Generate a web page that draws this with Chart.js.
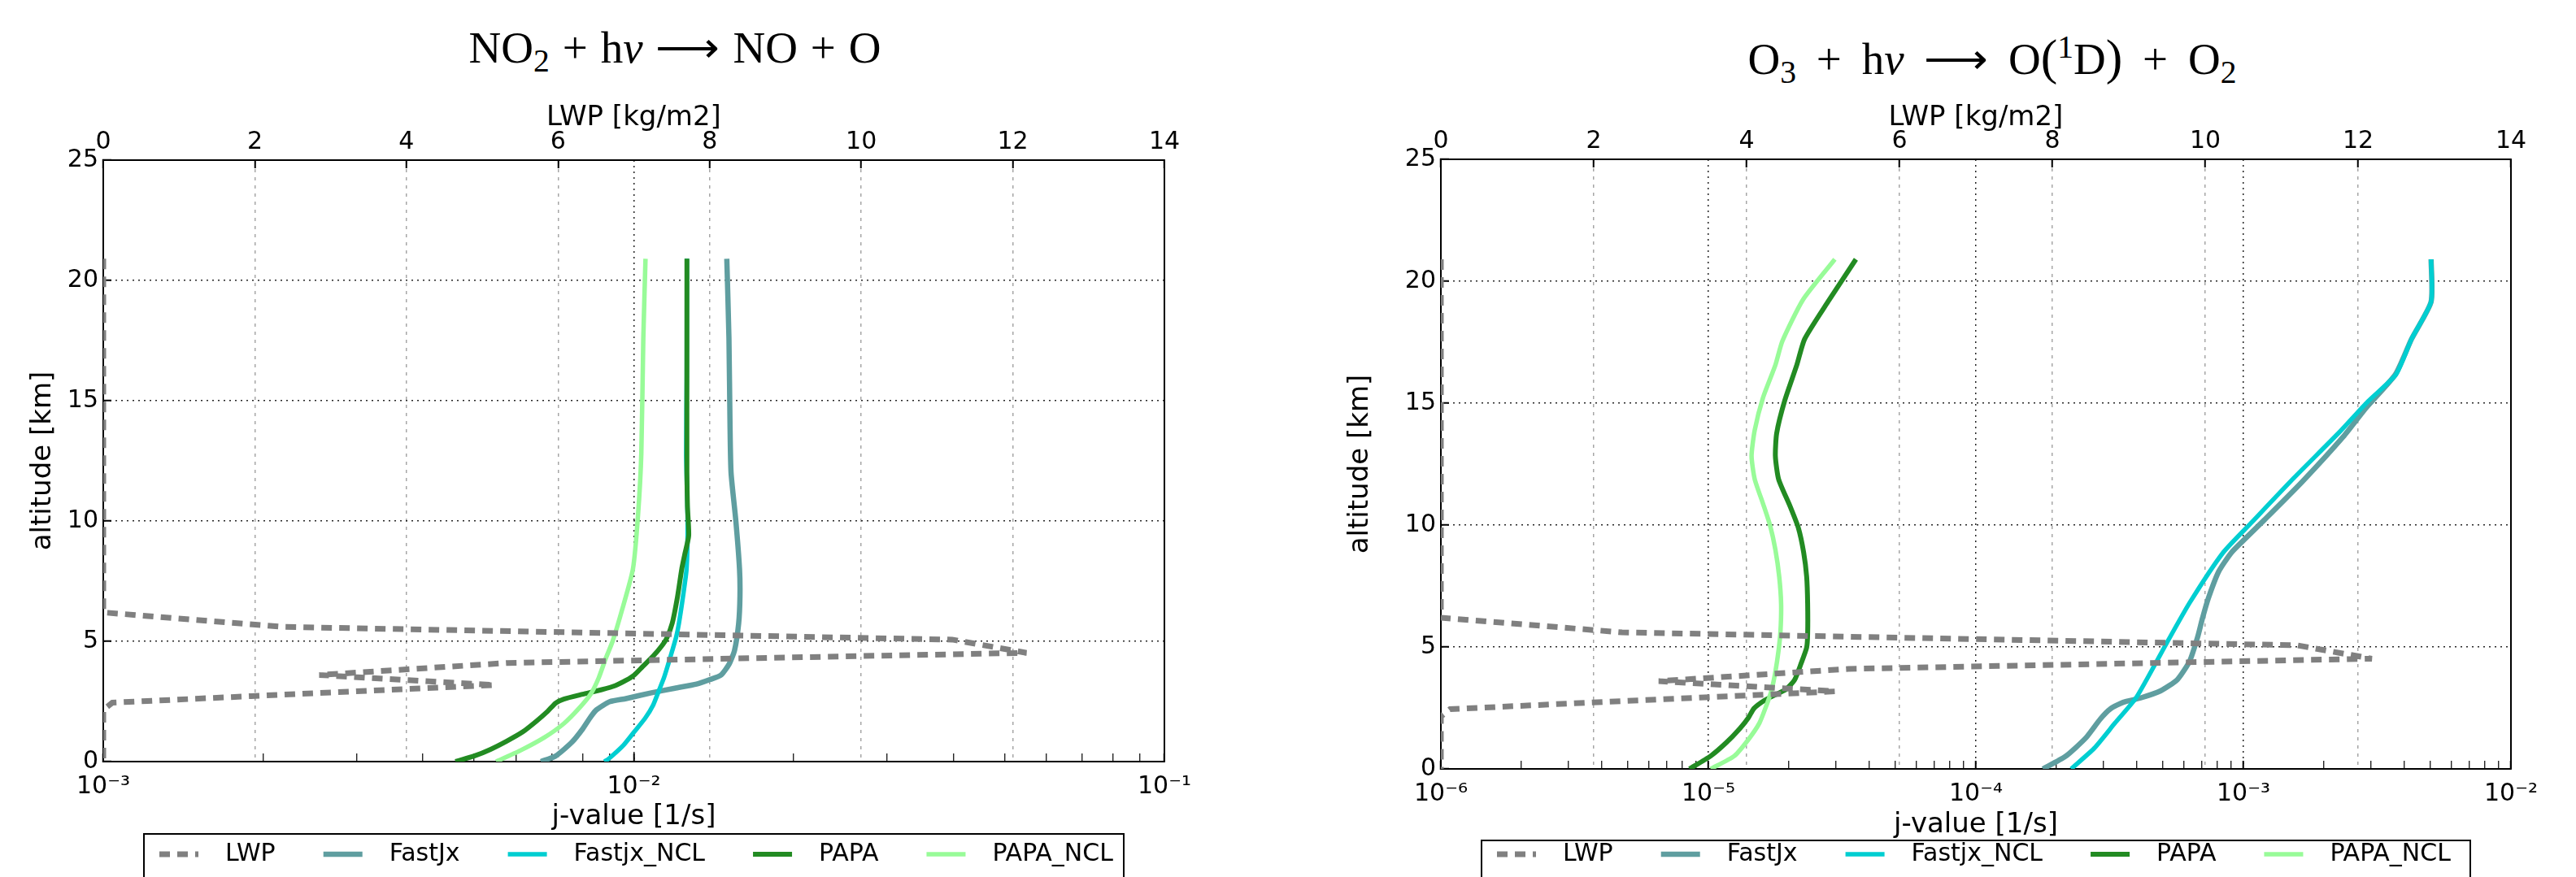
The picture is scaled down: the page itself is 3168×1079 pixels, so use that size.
<!DOCTYPE html>
<html>
<head>
<meta charset="utf-8">
<script src="https://cdn.jsdelivr.net/npm/chart.js@4.4.1/dist/chart.umd.min.js"></script>
<style>
   body { margin: 0; background: #fff; width: 3168px; height: 1079px; overflow: hidden; position: relative; }
   canvas { position: absolute; top: 0; }
   .title { position: absolute; width: 1000px; text-align: center; font-family: 'Liberation Serif', serif; font-size: 55px; line-height: 55px; white-space: nowrap; color: #000; }
   .title sub { font-size: 0.72em; vertical-align: -0.28em; line-height: 0; }
   .title sup { font-size: 0.72em; vertical-align: 0.5em; line-height: 0; }
   .title .op { margin: 0 0.04em; }
   .title .wide { margin: 0 0.2em; }
   .title .par { font-size: 1.12em; }
</style>
</head>
<body>
<div class="title" style="left:330px; top:31px">NO<sub>2</sub> <span class="op">+</span> h<i>ν</i> <span class="op">⟶</span> NO <span class="op">+</span> O</div>
<div class="title" style="left:1950px; top:43px">O<sub>3</sub> <span class="wide">+</span> h<i>ν</i> <span class="wide">⟶</span> O<span class="par">(</span><sup>1</sup>D<span class="par">)</span> <span class="wide">+</span> O<sub>2</sub></div>
<canvas id="no2Chart" width="1584" height="1079" style="left:0"></canvas>
<canvas id="o3Chart" width="1584" height="1079" style="left:1584px"></canvas>
<script>
'use strict';

/*global Chart*/

// liquid water path profile (top axis), same for both panels
var lwpAlt = [20.9, 6.2, 5.6, 5.07, 4.52, 4.1, 3.6, 3.18, 2.72, 2.45, 2.15, 0];
var lwpValue = [0, 0, 2.37, 11.2, 12.18, 5.33, 2.85, 5.16, 1.95, 0.12, 0, 0];

// NO2 + hv -> NO + O
var no2FastjxAlt = [0, 0.23, 0.8, 1.36, 1.87, 2.15, 2.49, 2.62, 2.85, 3.05, 3.22, 3.41, 3.6, 4.05, 4.62, 5.74, 6.87, 8.0, 10.0, 12.0, 14.0, 17.6, 20.9];
var no2FastjxJ = [0.00668, 0.00712, 0.00764, 0.00801, 0.00830, 0.00850, 0.00901, 0.00967, 0.01075, 0.01195, 0.01313, 0.01392, 0.01460, 0.01512, 0.01548, 0.01576, 0.01585, 0.01582, 0.01557, 0.01525, 0.01518, 0.01511, 0.01497];
var no2FastjxNclAlt = [0, 0.11, 0.68, 1.24, 1.8, 2.36, 2.93, 3.49, 4.05, 4.6, 5.19, 5.74, 6.87, 8.0, 10.0, 12.8, 16.0, 20.9];
var no2FastjxNclJ = [0.00880, 0.00896, 0.00956, 0.01002, 0.01050, 0.01088, 0.01114, 0.01140, 0.01161, 0.01181, 0.01202, 0.01216, 0.01238, 0.01257, 0.01263, 0.01255, 0.01258, 0.01259];
var no2PapaAlt = [0, 0.23, 0.51, 0.85, 1.24, 1.69, 2.09, 2.43, 2.6, 2.8, 2.99, 3.16, 3.38, 3.6, 3.94, 4.39, 4.79, 5.12, 5.74, 6.87, 8.0, 8.6, 9.4, 10.6, 12.0, 17.0, 20.9];
var no2PapaJ = [0.00461, 0.00500, 0.00537, 0.00576, 0.00618, 0.00656, 0.00688, 0.00712, 0.00738, 0.00801, 0.00870, 0.00923, 0.00967, 0.01002, 0.01038, 0.01088, 0.01127, 0.01153, 0.01181, 0.01209, 0.01231, 0.01247, 0.01269, 0.01262, 0.01259, 0.01259, 0.01259];
var no2PapaNclAlt = [0, 0.46, 1.01, 1.58, 2.25, 2.82, 3.49, 4.28, 5.0, 6.3, 8.0, 10.2, 12.8, 17.6, 20.9];
var no2PapaNclJ = [0.00550, 0.00611, 0.00679, 0.00738, 0.00791, 0.00830, 0.00859, 0.00885, 0.00912, 0.00950, 0.00996, 0.01018, 0.01033, 0.01042, 0.01052];

// O3 + hv -> O(1D) + O2
var o3FastjxAlt = [0, 0.51, 1.28, 2.05, 2.47, 2.73, 2.90, 3.20, 3.66, 4.43, 5.45, 6.13, 6.99, 8.09, 8.86, 9.37, 10.22, 11.75, 13.62, 14.82, 16.18, 17.63, 19.16, 20.9];
var o3FastjxJ = [1.78e-4, 2.16e-4, 2.58e-4, 2.92e-4, 3.19e-4, 3.55e-4, 4.10e-4, 4.90e-4, 5.66e-4, 6.30e-4, 6.76e-4, 7.01e-4, 7.39e-4, 8.08e-4, 9.00e-4, 1.00e-3, 1.20e-3, 1.65e-3, 2.36e-3, 2.88e-3, 3.70e-3, 4.25e-3, 5.03e-3, 5.03e-3];
var o3FastjxNclAlt = [0, 0.85, 1.88, 2.90, 4.43, 5.20, 6.82, 8.86, 10.14, 11.92, 13.80, 15.07, 16.18, 17.63, 19.16, 20.9];
var o3FastjxNclJ = [2.27e-4, 2.77e-4, 3.31e-4, 3.96e-4, 4.75e-4, 5.19e-4, 6.30e-4, 8.38e-4, 1.08e-3, 1.54e-3, 2.28e-3, 2.92e-3, 3.72e-3, 4.25e-3, 5.03e-3, 5.03e-3];
var o3PapaAlt = [0, 0.53, 1.09, 1.65, 2.09, 2.48, 2.81, 3.04, 3.26, 3.65, 4.32, 4.98, 5.54, 6.77, 7.88, 8.88, 9.88, 10.77, 11.88, 12.83, 13.77, 15.11, 16.56, 17.63, 19.16, 20.9];
var o3PapaJ = [8.5e-6, 1.02e-5, 1.17e-5, 1.31e-5, 1.41e-5, 1.48e-5, 1.62e-5, 1.78e-5, 1.95e-5, 2.10e-5, 2.22e-5, 2.33e-5, 2.35e-5, 2.35e-5, 2.33e-5, 2.27e-5, 2.17e-5, 2.02e-5, 1.83e-5, 1.78e-5, 1.80e-5, 1.93e-5, 2.14e-5, 2.29e-5, 2.80e-5, 3.56e-5];
var o3PapaNclAlt = [0, 0.53, 1.20, 1.87, 2.54, 3.20, 3.98, 4.87, 5.65, 6.77, 7.88, 8.99, 9.99, 10.88, 11.88, 12.83, 13.89, 15.22, 16.56, 17.54, 19.25, 20.9];
var o3PapaNclJ = [1.02e-5, 1.25e-5, 1.41e-5, 1.55e-5, 1.64e-5, 1.72e-5, 1.78e-5, 1.83e-5, 1.86e-5, 1.87e-5, 1.84e-5, 1.78e-5, 1.70e-5, 1.60e-5, 1.49e-5, 1.45e-5, 1.49e-5, 1.60e-5, 1.78e-5, 1.89e-5, 2.26e-5, 2.97e-5];

// axes
var no2Decades = [1e-3, 1e-2, 1e-1];
var no2DecadeLabels = ['10⁻³', '10⁻²', '10⁻¹'];
var o3Decades = [1e-6, 1e-5, 1e-4, 1e-3, 1e-2];
var o3DecadeLabels = ['10⁻⁶', '10⁻⁵', '10⁻⁴', '10⁻³', '10⁻²'];
var minorSteps = [2, 3, 4, 5, 6, 7, 8, 9];
var lwpTicks = [0, 2, 4, 6, 8, 10, 12, 14];
var altTicks = [0, 5, 10, 15, 20, 25];

var seriesNames = ['LWP', 'FastJx', 'Fastjx_NCL', 'PAPA', 'PAPA_NCL'];

Chart.defaults.font.family = '"DejaVu Sans", sans-serif';
Chart.defaults.color = '#000';

function points(xs, ys) {
   return ys.map(function(y, i) {
      return { x: xs[i], y: y };
   });
}

function isDecade(v) {
   var l = Math.log10(v);
   return Math.abs(l - Math.round(l)) < 1e-6;
}

function logTicks(decades) {
   var ticks = [];
   decades.forEach(function(d, i) {
      ticks.push(d);
      if (i < decades.length - 1) {
         minorSteps.forEach(function(m) {
            ticks.push(m * d);
         });
      }
   });
   return ticks;
}

// box around the legend under the plot, like matplotlib's
var boxLegend = {
   id: 'boxLegend',
   afterDraw: function(chart, args, opts) {
      var ctx = chart.ctx;
      var area = chart.chartArea;
      var left = area.left + 50;
      var right = area.right - 50;
      ctx.save();
      ctx.lineWidth = 2;
      ctx.strokeStyle = '#000';
      ctx.strokeRect(left, opts.top, right - left, 200);
      ctx.font = '30px "DejaVu Sans"';
      ctx.textBaseline = 'middle';
      var x = left + 19;
      chart.data.datasets.forEach(function(ds) {
         ctx.beginPath();
         ctx.setLineDash(ds.borderDash || []);
         ctx.lineWidth = ds.borderWidth;
         ctx.strokeStyle = ds.borderColor;
         ctx.moveTo(x, opts.mid);
         ctx.lineTo(x + 48, opts.mid);
         ctx.stroke();
         ctx.setLineDash([]);
         ctx.fillStyle = '#000';
         ctx.fillText(ds.label, x + 81, opts.mid);
         x += 81 + ctx.measureText(ds.label).width + 59;
      });
      ctx.restore();
   }
};

// right-hand spine
var frame = {
   id: 'frame',
   afterDraw: function(chart) {
      var ctx = chart.ctx;
      var a = chart.chartArea;
      ctx.save();
      ctx.lineWidth = 2;
      ctx.strokeStyle = '#000';
      ctx.beginPath();
      ctx.moveTo(a.right, a.top);
      ctx.lineTo(a.right, a.bottom);
      ctx.stroke();
      ctx.restore();
   }
};

function makeChart(id, d) {
   var ctx = document.getElementById(id);
   var jTicks = logTicks(d.decades);
   return new Chart(ctx, {
      type: 'scatter',
      data: {
         datasets: [{
            label: seriesNames[0],
            data: points(lwpValue, lwpAlt),
            xAxisID: 'x2',
            borderColor: '#808080',
            borderWidth: 7,
            borderDash: [13, 9],
            tension: 0,
            order: 0
         }, {
            label: seriesNames[1],
            data: points(d.fastjxJ, d.fastjxAlt),
            borderColor: '#5F9EA0',
            borderWidth: 6.5,
            order: 4
         }, {
            label: seriesNames[2],
            data: points(d.fastjxNclJ, d.fastjxNclAlt),
            borderColor: '#00CED1',
            borderWidth: 5.5,
            order: 3
         }, {
            label: seriesNames[3],
            data: points(d.papaJ, d.papaAlt),
            borderColor: '#228B22',
            borderWidth: 6,
            order: 2
         }, {
            label: seriesNames[4],
            data: points(d.papaNclJ, d.papaNclAlt),
            borderColor: '#98FB98',
            borderWidth: 5.5,
            order: 1
         }]
      },
      options: {
         responsive: false,
         animation: false,
         devicePixelRatio: 1,
         showLine: true,
         elements: {
            point: { radius: 0, hoverRadius: 0 },
            line: { tension: 0.2, borderCapStyle: 'butt', fill: false }
         },
         layout: { padding: { left: 0, right: d.padRight, top: 0, bottom: 0 } },
         plugins: {
            legend: { display: false },
            tooltip: { enabled: false },
            boxLegend: d.legend
         },
         scales: {
            x: {
               type: 'logarithmic',
               position: 'bottom',
               min: d.decades[0],
               max: d.decades[d.decades.length - 1],
               afterBuildTicks: function(scale) {
                  scale.ticks = jTicks.map(function(v) {
                     return { value: v, major: isDecade(v) };
                  });
               },
               afterFit: function(scale) { scale.height = d.bottomHeight; },
               ticks: {
                  autoSkip: false,
                  maxRotation: 0,
                  minRotation: 0,
                  padding: 23,
                  font: { size: 30 },
                  callback: function(v) {
                     for (var i = 0; i < d.decades.length; i++) {
                        if (Math.abs(v / d.decades[i] - 1) < 1e-6) return d.labels[i];
                     }
                     return '';
                  }
               },
               grid: {
                  color: function(c) {
                     return c.tick && isDecade(c.tick.value) ? 'rgba(0,0,0,0.85)' : 'rgba(0,0,0,0)';
                  },
                  lineWidth: 1.5,
                  tickLength: -10,
                  tickColor: '#000',
                  tickWidth: function(c) {
                     return c.tick && isDecade(c.tick.value) ? 2 : 1.2;
                  }
               },
               border: { color: '#000', width: 2, dash: [2, 5] },
               title: {
                  display: true,
                  text: 'j-value [1/s]',
                  font: { size: 34 },
                  padding: { top: 0, bottom: d.xTitlePad }
               }
            },
            x2: {
               type: 'linear',
               position: 'top',
               min: 0,
               max: 14,
               afterBuildTicks: function(scale) {
                  scale.ticks = lwpTicks.map(function(v) { return { value: v }; });
               },
               afterFit: function(scale) { scale.height = d.topHeight; },
               ticks: { padding: 14, font: { size: 30 }, maxRotation: 0, autoSkip: false },
               grid: { color: 'rgba(0,0,0,0.35)', lineWidth: 1.5, tickLength: -10, tickColor: '#000', tickWidth: 2 },
               border: { color: '#000', width: 2, dash: [4, 6] },
               title: {
                  display: true,
                  text: 'LWP [kg/m2]',
                  font: { size: 34 },
                  padding: { top: d.x2TitlePad, bottom: 0 }
               }
            },
            y: {
               type: 'linear',
               position: 'left',
               min: 0,
               max: 25,
               afterBuildTicks: function(scale) {
                  scale.ticks = altTicks.map(function(v) { return { value: v }; });
               },
               afterFit: function(scale) { scale.width = d.yWidth; },
               ticks: { padding: 16, font: { size: 30 } },
               grid: { color: 'rgba(0,0,0,0.85)', lineWidth: 1.5, tickLength: -10, tickColor: '#000', tickWidth: 2 },
               border: { color: '#000', width: 2, dash: [2, 5] },
               title: {
                  display: true,
                  text: 'altitude [km]',
                  font: { size: 34 },
                  padding: { top: d.yTitlePad, bottom: 0 }
               }
            }
         }
      },
      plugins: [boxLegend, frame]
   });
}

makeChart('no2Chart', {
   decades: no2Decades, labels: no2DecadeLabels,
   fastjxAlt: no2FastjxAlt, fastjxJ: no2FastjxJ,
   fastjxNclAlt: no2FastjxNclAlt, fastjxNclJ: no2FastjxNclJ,
   papaAlt: no2PapaAlt, papaJ: no2PapaJ,
   papaNclAlt: no2PapaNclAlt, papaNclJ: no2PapaNclJ,
   yWidth: 127, topHeight: 197, bottomHeight: 142, padRight: 152,
   yTitlePad: 33, xTitlePad: 53, x2TitlePad: 125,
   legend: { top: 1026, mid: 1051 }
});

makeChart('o3Chart', {
   decades: o3Decades, labels: o3DecadeLabels,
   fastjxAlt: o3FastjxAlt, fastjxJ: o3FastjxJ,
   fastjxNclAlt: o3FastjxNclAlt, fastjxNclJ: o3FastjxNclJ,
   papaAlt: o3PapaAlt, papaJ: o3PapaJ,
   papaNclAlt: o3PapaNclAlt, papaNclJ: o3PapaNclJ,
   yWidth: 188, topHeight: 196, bottomHeight: 133, padRight: 80,
   yTitlePad: 69, xTitlePad: 43, x2TitlePad: 125,
   legend: { top: 1034, mid: 1051 }
});
</script>
</body>
</html>
